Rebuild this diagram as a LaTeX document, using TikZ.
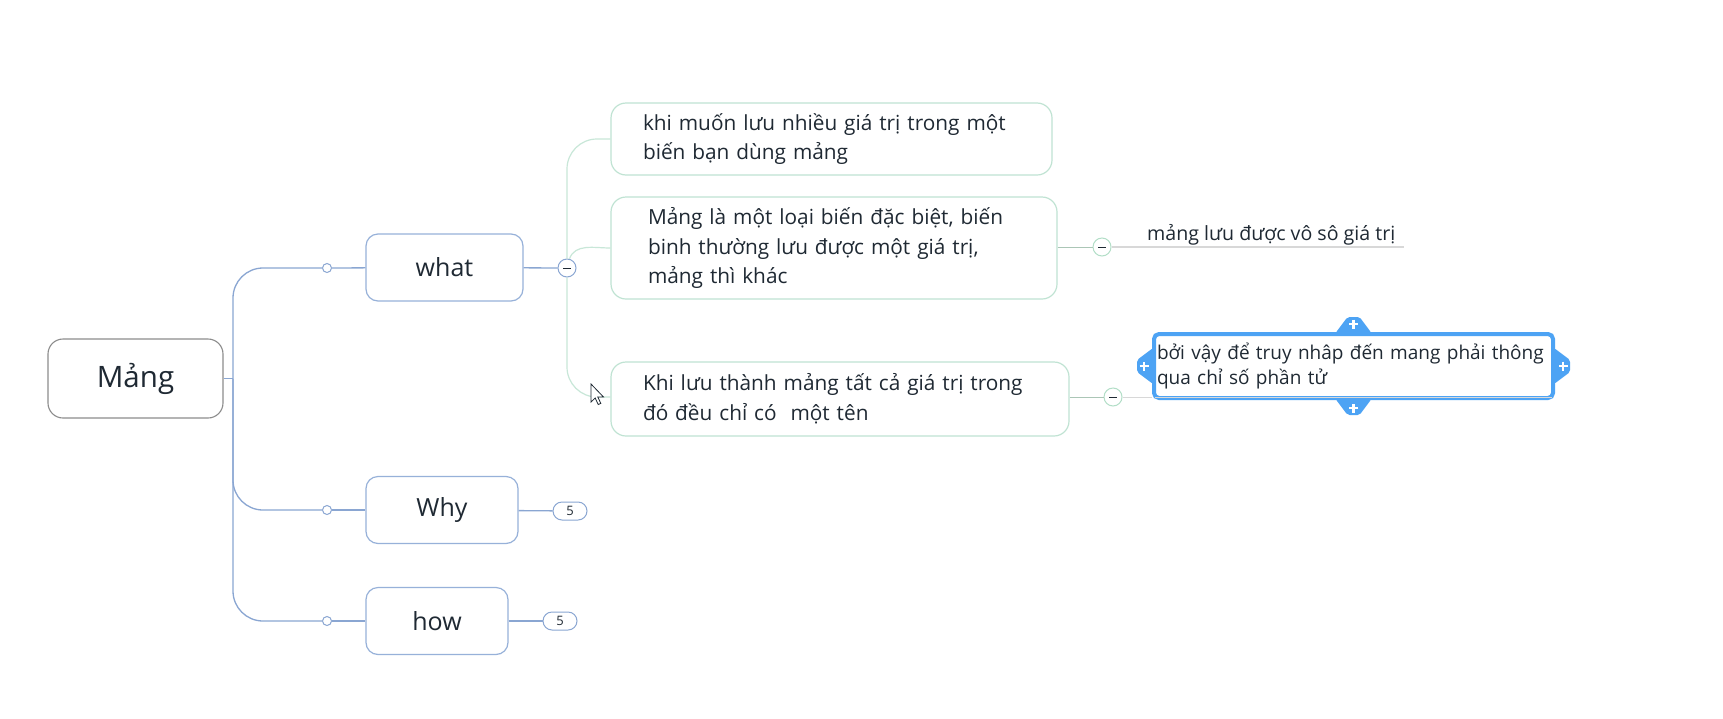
\documentclass[tikz,border=0pt]{standalone}
\usepackage{fontspec}
\setmainfont{Open Sans}
\usetikzlibrary{positioning}

\definecolor{ink}{HTML}{1F2933}
\definecolor{rootgray}{HTML}{8C8C8C}
\definecolor{topicblue}{HTML}{97B1D9}
\definecolor{lineblue}{HTML}{8AA6D2}
\definecolor{subgreen}{HTML}{C0E3D3}
\definecolor{linegreen}{HTML}{C8E7D8}
\definecolor{foldgreen}{HTML}{B2DEC7}
\definecolor{stemgreen}{HTML}{ABC6B6}
\definecolor{selblue}{HTML}{4DA3F4}
\definecolor{rulegray}{HTML}{D8D8D8}

\tikzset{
  root/.style={draw=rootgray, line width=1.1pt, rounded corners=15pt, fill=white,
    minimum width=175pt, minimum height=79pt, text=ink,
    font=\fontsize{29.5}{34}\selectfont},
  topic/.style={draw=topicblue, line width=1.2pt, rounded corners=12pt, fill=white,
    minimum height=67pt, text=ink, font=\fontsize{25}{30}\selectfont},
  sub/.style={draw=subgreen, line width=1.2pt, rounded corners=15pt, fill=white,
    align=left, text=ink, font=\fontsize{20.8}{29.5}\selectfont},
  knob/.style={circle, draw=lineblue, line width=1pt, fill=white,
    inner sep=0pt, minimum size=9pt},
  fold/.style={circle, line width=1pt, fill=white, inner sep=0pt,
    minimum size=18pt, text=ink},
  pill/.style={draw=lineblue, line width=1pt, rounded corners=9pt, fill=white,
    minimum width=34pt, minimum height=18pt, inner sep=0pt, text=ink,
    font=\fontsize{13}{15}\selectfont},
  blueline/.style={draw=lineblue, line width=1.3pt},
  greenline/.style={draw=linegreen, line width=1.2pt},
}

\begin{document}
\begin{tikzpicture}[x=1pt, y=-1pt]
\useasboundingbox[fill=white] (0,0) rectangle (1723,718);

% main topics
\node[root] (mang) at (135.5,378.5) {Mảng};
\node[topic, minimum width=157pt] (what) at (444.5,267.5) {what};
\node[topic, minimum width=152pt] (why) at (442,510) {Why};
\node[topic, minimum width=142pt] (how) at (437,621) {how};

\coordinate (trunk) at (233,378.5);
\node[knob] (k1) at (327,268) {};
\node[knob] (k2) at (327,510) {};
\node[knob] (k3) at (327,621) {};

\draw[blueline] (mang) -- (trunk);
\foreach \k in {k1,k2,k3}
  \draw[blueline, rounded corners=30pt] (trunk) |- (\k);
\draw[blueline] (k1) -- (what);
\draw[blueline] (k2) -- (why);
\draw[blueline] (k3) -- (how);

% collapsed counters
\node[pill] (p1) at (570,511) {5};
\node[pill] (p2) at (560,621) {5};
\draw[blueline] (why) -- (p1);
\draw[blueline] (how) -- (p2);

% subtopics of what
\node[sub, text width=377pt, inner xsep=32pt, minimum height=72pt] (b1) at (831.5,139)
  {khi muốn lưu nhiều giá trị trong một\\biến bạn dùng mảng};
\node[sub, text width=372pt, inner xsep=37pt, minimum height=102pt] (b2) at (834,248)
  {Mảng là một loại biến đặc biệt, biến\\binh thường lưu được một giá trị,\\mảng thì khác};
\node[sub, text width=394pt, inner xsep=32pt, minimum height=74pt] (b3) at (840,399)
  {Khi lưu thành mảng tất cả giá trị trong\\đó đều chỉ có~ một tên};

\node[fold, draw=lineblue] (f1) at (567,268) {\rule{8pt}{0.9pt}};
\node[fold, draw=foldgreen] (f2) at (1102,247) {\rule{8pt}{0.9pt}};
\node[fold, draw=foldgreen] (f3) at (1113,397) {\rule{8pt}{0.9pt}};

\draw[blueline] (what) -- (f1);
\draw[greenline, rounded corners=30pt] (f1) |- (b1.west);
\draw[greenline] (f1.75) to[out=70, in=180] (b2.west);
\draw[greenline, rounded corners=30pt] (f1) |- (b3.west |- f3);

% floating note and selected topic
\node[anchor=base west, inner xsep=8pt, text=ink, font=\fontsize{19.6}{25}\selectfont]
  (t1) at (1139,240) {mảng lưu được vô sô giá trị};
\draw[stemgreen, line width=1pt] (b2.east |- f2) -- (f2);
\draw[rulegray, line width=1.2pt] (f2) -- (t1.east |- f2);

\node[draw=selblue, line width=4pt, rounded corners=5pt, fill=white,
  minimum width=399pt, minimum height=64pt, text width=393pt, inner xsep=3pt,
  align=left, text=ink, font=\fontsize{19}{25}\selectfont]
  (b4) at (1353.5,366) {bởi vậy để truy nhâp đến mang phải thông\\qua chỉ số phần tử};
\draw[rulegray, line width=1pt] ([xshift=3pt, yshift=2.5pt]b4.south west)
  -- ([xshift=-3pt, yshift=2.5pt]b4.south east);
\draw[stemgreen, line width=1pt] (b3.east |- f3) -- (f3);
\draw[rulegray, line width=1pt] (f3) -- (b4.west |- f3);

% resize handles
\foreach \a/\r in {north/0, south/180, west/90, east/-90} {
  \fill[selblue, shift={(b4.\a)}, rotate=\r, rounded corners=2pt]
    (-18,1) -- (-6,-15) -- (6,-15) -- (18,1) -- cycle;
  \draw[white, line width=2.4pt, shift={(b4.\a)}, rotate=\r]
    (-4.5,-8) -- (4.5,-8) (0,-12.5) -- (0,-3.5);
}

% mouse pointer
\filldraw[fill=white, draw=ink, line width=0.8pt, shift={(591,384)}]
  (0,0) -- (0,18) -- (4.2,14) -- (7.2,20.5) -- (9.8,19.4) -- (6.8,13) -- (12.5,13) -- cycle;
\end{tikzpicture}
\end{document}
